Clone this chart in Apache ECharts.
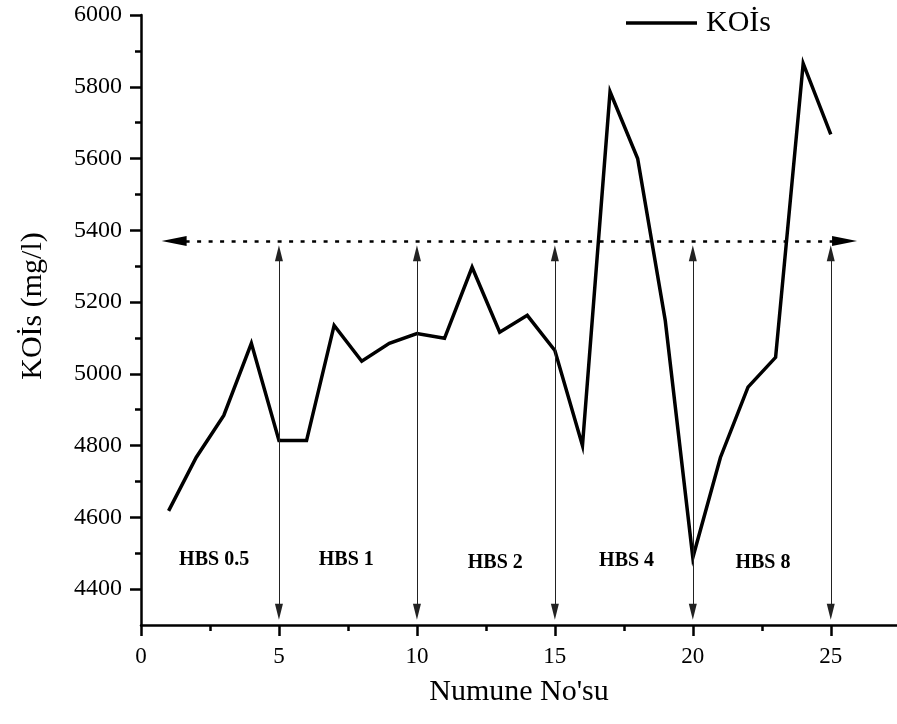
<!DOCTYPE html>
<html>
<head>
<meta charset="utf-8">
<script src="https://cdn.jsdelivr.net/npm/echarts@6/dist/echarts.min.js"></script>
<style>
  html, body { margin: 0; padding: 0; background: #fff; }
  #chart { width: 897px; height: 724px; }
</style>
</head>
<body>
<div id="chart"></div>
<script>
  // numune no / KOİs degerleri
  const sampleNo = [1, 2, 3, 4, 5, 6, 7, 8, 9, 10, 11, 12, 13, 14, 15, 16, 17, 18, 19, 20, 21, 22, 23, 24, 25]
  const kois = [4618, 4767, 4884, 5085, 4814, 4814, 5135, 5035, 5085, 5112, 5099, 5297, 5116, 5163, 5065,
    4800, 5786, 5600, 5149, 4488, 4767, 4963, 5046, 5865, 5667]

  const xLabels = [0, 5, 10, 15, 20, 25]
  const xMinor = [2.5, 7.5, 12.5, 17.5, 22.5]
  const yLabels = [4400, 4600, 4800, 5000, 5200, 5400, 5600, 5800, 6000]
  const yMinor = [4500, 4700, 4900, 5100, 5300, 5500, 5700, 5900]

  // HBS bolgeleri
  const dividers = [5, 10, 15, 20, 25]
  const hbsNames = ['HBS 0.5', 'HBS 1', 'HBS 2', 'HBS 4', 'HBS 8']
  const hbsX = [2.65, 7.44, 12.84, 17.6, 22.54]
  const hbsY = [4482, 4482, 4473, 4479, 4473]
  const refLevel = 5370
  const refFrom = 1.2
  const refTo = 25.5
  const arrowTop = 5336
  const arrowBottom = 4337

  const font = "'Liberation Serif', 'Times New Roman', serif"
  const chart = echarts.init(document.getElementById('chart'))

  const markData = [[{ coord: [refFrom, refLevel] }, { coord: [refTo, refLevel] }]]
  dividers.forEach(function(d) {
    markData.push([
      { coord: [d, arrowTop], symbolSize: [8, 16], lineStyle: { type: 'solid', width: 1, color: '#222' } },
      { coord: [d, arrowBottom], symbolSize: [8, 16] }
    ])
  })

  chart.setOption({
    animation: false,
    backgroundColor: '#fff',
    grid: { left: 141, right: -2, top: 15, bottom: 99 },
    legend: {
      data: ['KOİs'],
      left: 626,
      top: 8,
      padding: 0,
      itemGap: 0,
      icon: 'rect',
      itemWidth: 71,
      itemHeight: 3.5,
      textStyle: { fontFamily: font, fontSize: 30, color: '#000', padding: [0, 0, 0, 4] }
    },
    xAxis: [{
      type: 'value',
      min: 0,
      max: 27.4,
      name: "Numune No'su",
      nameLocation: 'middle',
      nameGap: 52,
      nameTextStyle: { fontFamily: font, fontSize: 30, color: '#000' },
      splitLine: { show: false },
      axisLine: { lineStyle: { color: '#000', width: 2.5 } },
      axisTick: { customValues: xLabels, length: 11, lineStyle: { color: '#000', width: 2.5 } },
      axisLabel: { customValues: xLabels, margin: 20, fontFamily: font, fontSize: 23, color: '#000' }
    }, {
      type: 'value',
      min: 0,
      max: 27.4,
      position: 'bottom',
      splitLine: { show: false },
      axisLine: { show: false },
      axisTick: { customValues: xMinor, length: 6, lineStyle: { color: '#000', width: 2.5 } },
      axisLabel: { show: false }
    }],
    yAxis: [{
      type: 'value',
      min: 4300,
      max: 6000,
      position: 'left',
      name: 'KOİs (mg/l)',
      nameLocation: 'middle',
      nameGap: 93,
      nameTextStyle: { fontFamily: font, fontSize: 30, color: '#000', padding: [0, 0, 0, 28] },
      splitLine: { show: false },
      axisLine: { show: true, lineStyle: { color: '#000', width: 2.5 } },
      axisTick: { show: true, customValues: yLabels, length: 11, lineStyle: { color: '#000', width: 2.5 } },
      axisLabel: {
        customValues: yLabels,
        margin: 19,
        fontFamily: font,
        fontSize: 24,
        color: '#000',
        formatter: function(v) { return String(v) }
      }
    }, {
      type: 'value',
      min: 4300,
      max: 6000,
      position: 'left',
      splitLine: { show: false },
      axisLine: { show: false },
      axisTick: { show: true, customValues: yMinor, length: 6, lineStyle: { color: '#000', width: 2.5 } },
      axisLabel: { show: false }
    }],
    series: [{
      name: 'KOİs',
      type: 'line',
      xAxisIndex: 0,
      yAxisIndex: 0,
      symbol: 'none',
      data: sampleNo.map(function(n, i) { return [n, kois[i]] }),
      lineStyle: { color: '#000', width: 3.5, join: 'miter' },
      itemStyle: { color: '#000' },
      markLine: {
        silent: true,
        symbol: ['triangle', 'triangle'],
        symbolSize: [10, 25],
        label: { show: false },
        emphasis: { disabled: true },
        lineStyle: { color: '#000', width: 2.5, type: [4, 7.5] },
        data: markData
      }
    }, {
      name: 'hbs',
      type: 'scatter',
      symbolSize: 0,
      silent: true,
      itemStyle: { opacity: 1, color: '#000' },
      data: hbsNames.map(function(n, i) { return { name: n, value: [hbsX[i], hbsY[i]] } }),
      label: {
        show: true,
        position: 'inside',
        formatter: '{b}',
        fontFamily: font,
        fontSize: 20,
        fontWeight: 'bold',
        color: '#000',
        opacity: 1
      }
    }]
  })
</script>
</body>
</html>
